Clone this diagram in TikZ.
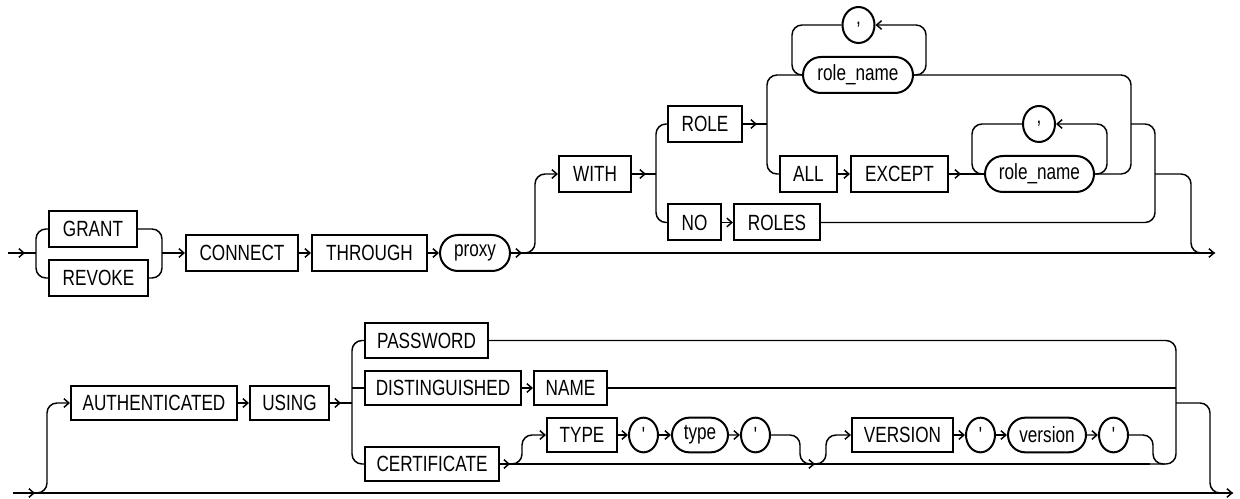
\documentclass[tikz,border=0pt]{standalone}
\usepackage{fontspec}
\newfontfamily\rrfont{Liberation Sans}[FakeStretch=0.78,Ligatures=TeXOff]
\usetikzlibrary{arrows.meta,shapes.geometric,shapes.misc}
\begin{document}
\begin{tikzpicture}[x=0.75pt,y=-0.75pt,
  line width=1.1pt,
  >={Straight Barb[length=3.75pt,width=6.5pt,line width=1.1pt]},
  rc/.style={rounded corners=7.5pt},
  kw/.style={draw,rectangle,line width=1.5pt,minimum height=27pt,inner sep=0pt,
    font=\rrfont\fontsize{16.5}{18}\selectfont},
  kw2/.style={kw,minimum height=26pt},
  ov/.style={kw,rounded rectangle},
  ov2/.style={kw2,rounded rectangle},
  el/.style={kw,ellipse},
  el2/.style={kw2,ellipse}]
\useasboundingbox (0,0) rectangle (1240,499);

% ---------- row 1 nodes
\node[kw,minimum width=66pt] (grant) at (93,229) {GRANT};
\node[kw,minimum width=74.25pt] (revoke) at (98.5,278) {REVOKE};
\node[kw,minimum width=84pt] (connect) at (242,253) {CONNECT};
\node[kw,minimum width=86.25pt] (through) at (369.5,253) {THROUGH};
\node[ov,minimum width=52.5pt] (proxy) at (475,253) {proxy};
\node[kw,minimum width=54pt] (with) at (595,174) {WITH};
\node[kw,minimum width=55.5pt] (role) at (705,124) {ROLE};
\node[kw,minimum width=39.75pt] (no) at (694.5,222.5) {NO};
\node[kw,minimum width=64.5pt] (roles) at (777,222.5) {ROLES};
\node[kw,minimum width=42.75pt] (all) at (808.5,174) {ALL};
\node[kw,minimum width=72.75pt] (except) at (899.5,174) {EXCEPT};
\node[ov,minimum width=81.75pt] (rnb) at (1039.5,174) {role\_name};
\node[el,minimum width=24pt] (cb) at (1039,124) {,};
\node[ov,minimum width=82.5pt] (rna) at (858,75) {role\_name};
\node[el,minimum width=24pt] (ca) at (858.5,25) {,};

\coordinate (s1) at (8,253);
\coordinate (e1) at (1215,253);

% ---------- row 1 connectors
\draw[->] (s1) -- (25,253);
\draw (s1) -- (36,253);
\draw[rc] (grant.west) -| (36,253) |- (revoke.west);
\draw[rc] (grant.east) -| (162,253) |- (revoke.east);
\draw[->] (162,253) -- (connect.west);
\draw[->] (connect) -- (through);
\draw[->] (through) -- (proxy);
\draw[->] (proxy.east) -- (e1);
\draw[->] (proxy.east) -- (522,253);
\draw[rc,->] (522,253) -| (535,174) -- (with.west);

\draw[->] (with.east) -- ++(14,0);
\draw (with.east) -- (656,174);
\draw[rc] (role.west) -| (656,174) |- (no.west);
\draw[->] (no) -- (roles);
\draw[->] (role.east) -- ++(14,0);
\draw (role.east) -- (767,124);
\draw[rc] (rna.west) -| (767,124) |- (all.west);
\draw[->] (all) -- (except);
\draw[->] (except.east) -- ++(12,0);
\draw (except.east) -- (rnb.west);

\draw[rc,->] (rna.east) -| (926,25) -- (ca.east);
\draw[rc] (ca.west) -| (792,75) -- (rna.west);
\draw[rc,->] (rnb.east) -| (1107,124) -- (cb.east);
\draw[rc] (cb.west) -| (972,174) -- (rnb.west);

\draw[rc] (rna.east) -| (1131,124) |- (rnb.east);
\draw[rc] (1131,124) -| (1155,174) |- (roles.east);
\draw[rc] (1155,174) -| (1191,253) -- (e1);

% ---------- row 2 nodes
\node[kw2,minimum width=124.5pt] (auth) at (154,403) {AUTHENTICATED};
\node[kw2,minimum width=59.25pt] (using) at (289.5,403) {USING};
\node[kw2,minimum width=92.25pt] (pw) at (426.5,340.5) {PASSWORD};
\node[kw2,minimum width=117pt] (dist) at (443,388) {DISTINGUISHED};
\node[kw2,minimum width=54.75pt] (name) at (570.5,388) {NAME};
\node[kw2,minimum width=100.5pt] (cert) at (432,464) {CERTIFICATE};
\node[kw2,minimum width=52.5pt] (type) at (582,435) {TYPE};
\node[el2,minimum width=21.75pt] (q1) at (643.5,435) {'};
\node[ov2,minimum width=42pt] (tv) at (700,435) {type};
\node[el2,minimum width=21.75pt] (q2) at (755.5,435) {'};
\node[kw2,minimum width=75.75pt] (version) at (902.5,435) {VERSION};
\node[el2,minimum width=21.75pt] (q3) at (980.5,435) {'};
\node[ov2,minimum width=58.5pt] (vv) at (1047,435) {version};
\node[el2,minimum width=21.75pt] (q4) at (1113.5,435) {'};

\coordinate (s2) at (13,493);
\coordinate (e2) at (1233,493);

% ---------- row 2 connectors
\draw[->] (s2) -- (e2);
\draw[->] (s2) -- (35,493);
\draw[rc,->] (35,493) -| (47,403) -- (auth.west);
\draw[->] (auth) -- (using);
\draw[->] (using.east) -- ++(11,0);
\draw (using.east) -- (352,403);
\draw[rc] (pw.west) -| (352,403) |- (cert.west);
\draw (dist.west) -- (352,388);
\draw[->] (dist) -- (name);
\draw[rc] (pw.east) -| (1176,403) |- (1140,464);
\draw (name.east) -- (1176,388);
\draw[rc] (1176,403) -| (1210,493) -- (e2);

\draw (cert.east) -- (1150,464);
\draw[->] (cert.east) -- (510,464);
\draw[rc,->] (510,464) -| (522,435) -- (type.west);
\draw[->] (type) -- (q1);
\draw[->] (q1) -- (tv);
\draw[->] (tv) -- (q2);
\draw[rc,->] (q2.east) -| (800,464) -- (815,464);
\draw[rc,->] (815,464) -| (826,435) -- (version.west);
\draw[->] (version) -- (q3);
\draw[->] (q3) -- (vv);
\draw[->] (vv) -- (q4);
\draw[rc] (q4.east) -| (1153,464) -- (1165,464);
\end{tikzpicture}
\end{document}
